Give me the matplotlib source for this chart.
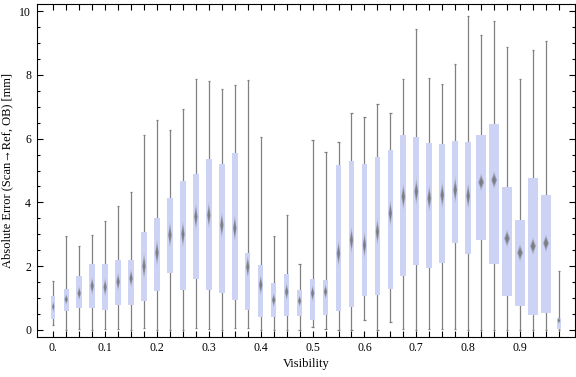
import numpy as np
import matplotlib
matplotlib.use("Agg")
import matplotlib.pyplot as plt
from matplotlib.ticker import FixedLocator, MultipleLocator
from matplotlib.patches import Polygon

plt.rcParams['font.family'] = ['Liberation Serif', 'DejaVu Serif']

# Visibility bins (category positions)
visibility = [0.000, 0.025, 0.050, 0.075, 0.100, 0.125, 0.150, 0.175,
              0.200, 0.225, 0.250, 0.275, 0.300, 0.325, 0.350, 0.375,
              0.400, 0.425, 0.450, 0.475, 0.500, 0.525, 0.550, 0.575,
              0.600, 0.625, 0.650, 0.675, 0.700, 0.725, 0.750, 0.775,
              0.800, 0.825, 0.850, 0.875, 0.900, 0.925, 0.950, 0.975]

whisker_low = [0.15, 0.00, 0.02, 0.00, 0.02, 0.02, 0.00, 0.05,
               0.00, 0.00, 0.00, 0.05, 0.02, 0.00, 0.05, 0.05,
               0.00, 0.00, 0.00, 0.00, 0.08, 0.02, 0.00, 0.00,
               0.30, 0.00, 0.24, 0.02, 0.00, 0.02, 0.02, 0.02,
               0.00, 0.00, 0.00, 0.00, 0.00, 0.00, 0.00, 0.00]
q1 = [0.35, 0.61, 0.70, 0.70, 0.63, 0.79, 0.79, 0.90,
      1.23, 1.78, 1.26, 1.61, 1.26, 1.16, 0.95, 0.63,
      0.42, 0.42, 0.45, 0.45, 0.32, 0.47, 0.61, 0.73,
      1.08, 1.11, 1.28, 1.69, 2.04, 1.94, 2.10, 2.74,
      2.39, 2.83, 2.08, 1.08, 0.76, 0.48, 0.54, 0.04]
median = [0.73, 0.96, 1.15, 1.38, 1.34, 1.51, 1.62, 2.00,
          2.42, 2.98, 3.00, 3.55, 3.60, 3.29, 3.19, 1.98,
          1.41, 0.94, 1.20, 0.91, 1.15, 1.20, 2.40, 2.82,
          2.66, 3.08, 3.66, 4.18, 4.34, 4.13, 4.23, 4.39,
          4.20, 4.63, 4.70, 2.87, 2.42, 2.63, 2.72, 0.30]
q3 = [1.07, 1.30, 1.69, 2.07, 2.07, 2.19, 2.19, 3.07,
      3.51, 4.14, 4.67, 4.89, 5.36, 5.20, 5.55, 2.40,
      2.04, 1.46, 1.76, 1.25, 1.60, 1.57, 5.18, 5.30,
      5.20, 5.42, 5.64, 6.11, 6.05, 5.86, 5.83, 5.92,
      5.89, 6.11, 6.46, 4.48, 3.45, 4.76, 4.23, 0.38]
whisker_high = [1.54, 2.95, 2.63, 2.98, 3.41, 3.89, 4.32, 6.11,
                6.58, 6.27, 6.93, 7.86, 7.81, 7.55, 7.67, 7.84,
                6.05, 2.95, 3.60, 2.06, 5.96, 5.57, 5.88, 6.79,
                6.67, 7.07, 6.79, 7.86, 9.45, 7.89, 7.70, 8.34,
                9.84, 9.25, 9.68, 8.86, 7.86, 8.79, 9.05, 1.85]

x_tick_values = [0.0, 0.1, 0.2, 0.3, 0.4, 0.5, 0.6, 0.7, 0.8, 0.9]
x_tick_labels = ["0.", "0.1", "0.2", "0.3", "0.4", "0.5", "0.6", "0.7", "0.8", "0.9"]
y_tick_values = [0, 2, 4, 6, 8, 10]

# style: box widths (data units)
box_w = [0.0070] + [0.0105] * 26 + [0.0115] * 6 + [0.0195] * 6 + [0.0085]

fig = plt.figure(figsize=(5.76, 3.77), dpi=100)
ax = fig.add_axes([0.0637, 0.1069, 0.9346, 0.8825])

box_color = '#ccd3f5'
wh_color = '#808080'
cap = 0.0022

x = np.array(visibility)
ax.vlines(x, whisker_low, whisker_high, color=wh_color, lw=0.9, zorder=1)
ax.hlines(whisker_low, x - cap, x + cap, color=wh_color, lw=0.9, zorder=1)
ax.hlines(whisker_high, x - cap, x + cap, color=wh_color, lw=0.9, zorder=1)
ax.bar(x, np.array(q3) - np.array(q1), bottom=q1, width=box_w,
       color=box_color, edgecolor='none', zorder=2)

# median diamonds (blurred look via layers)
for xi, m, lo, hi, w in zip(x, median, q1, q3, box_w):
    hh = min(0.12 * (hi - lo) + 0.04, 0.30 if w < 0.015 else 0.20)
    hw = w * (0.30 if w < 0.015 else 0.26)
    for s, a in [(1.5, 0.12), (1.25, 0.2), (1.0, 0.4), (0.7, 0.55)]:
        poly = Polygon([(xi, m + hh * s), (xi + hw * min(s, 1.1), m),
                        (xi, m - hh * s), (xi - hw * min(s, 1.1), m)],
                       closed=True, facecolor='#6a6a6a', edgecolor='none',
                       alpha=a, zorder=3)
        ax.add_patch(poly)

ax.set_xlim(-0.032, 1.006)
ax.set_ylim(-0.21, 10.22)

ax.xaxis.set_major_locator(FixedLocator(x_tick_values))
ax.set_xticklabels(x_tick_labels)
ax.xaxis.set_minor_locator(FixedLocator(visibility))
ax.yaxis.set_major_locator(FixedLocator(y_tick_values))
ax.yaxis.set_minor_locator(MultipleLocator(0.5))

ax.tick_params(axis='both', which='both', direction='in', top=True, right=True,
               color='black', width=0.8, labelsize=8.5)
ax.tick_params(axis='x', which='both', length=4, pad=4)
ax.tick_params(axis='y', which='major', length=4.5, pad=4)
ax.tick_params(axis='y', which='minor', length=2.5)
for sp in ax.spines.values():
    sp.set_linewidth(0.8)

ax.set_xlabel("Visibility", fontsize=9, labelpad=3)
ax.set_ylabel("Absolute Error (Scan\u2192Ref, OB) [mm]", fontsize=9, labelpad=4)

fig.savefig("out.png", dpi=100)
